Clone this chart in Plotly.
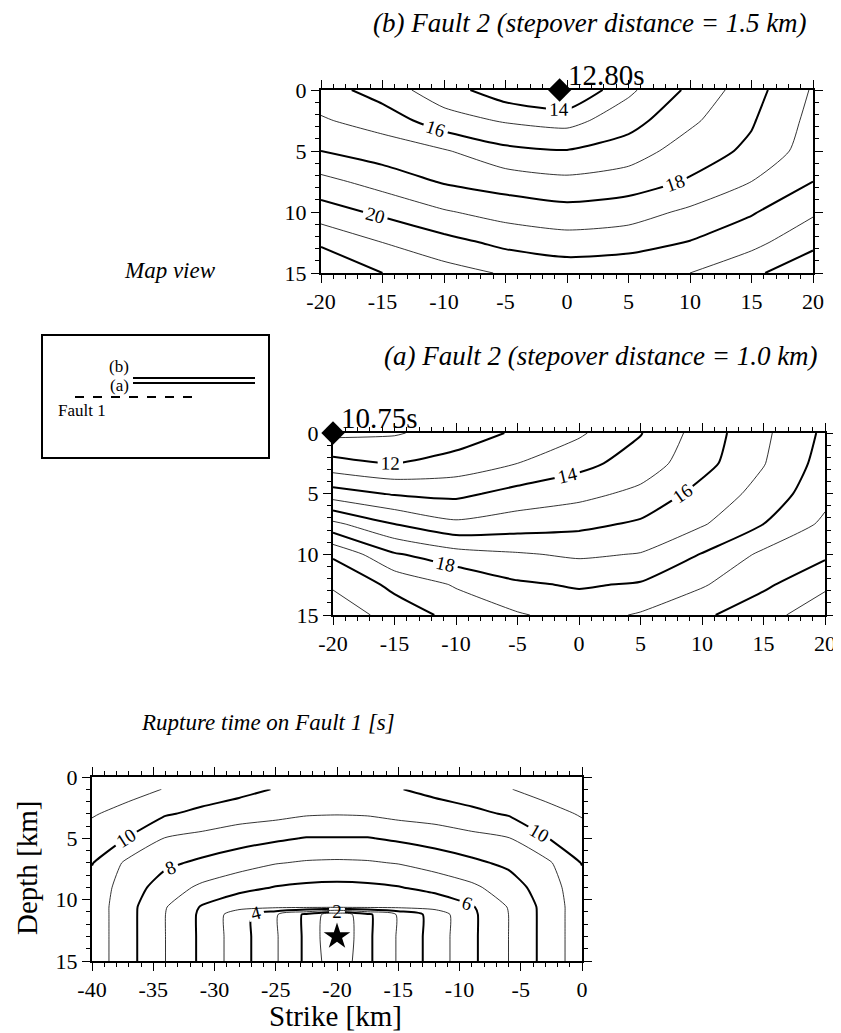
import plotly.graph_objects as go

FONT = "Liberation Serif"

# grid nodes of the two Fault 2 panels: strike [km] and depth [km]
fault2_strike = [-20, -15, -10, -5, 0, 5, 10, 15, 20]
fault2_depth = [0, 2.5, 5, 7.5, 10, 12.5, 15]

# (b) stepover 1.5 km, rupture time [s], one row per depth
time_b = [
    [16.5, 15.5, 14.45, 13.4, 12.9, 14.8, 16.2, 17.6, 19.1],
    [17.1, 16.6, 15.4, 14.9, 14.65, 15.6, 16.8, 17.9, 19.3],
    [18.0, 17.5, 17.1, 16.25, 16.05, 16.5, 17.5, 18.2, 19.5],
    [19.3, 18.6, 17.9, 17.55, 17.25, 17.5, 18.1, 19.0, 20.0],
    [20.45, 19.8, 19.1, 18.6, 18.35, 18.55, 19.2, 19.9, 20.85],
    [21.85, 21.0, 20.35, 19.75, 19.45, 19.6, 20.05, 20.7, 21.75],
    [22.9, 22.0, 21.4, 20.9, 20.6, 20.7, 21.0, 21.8, 22.7],
]

# (a) stepover 1.0 km
time_a = [
    [10.75, 10.9, 11.45, 12.15, 12.85, 13.95, 15.45, 16.8, 18.2],
    [12.35, 12.0, 12.4, 13.0, 13.7, 14.45, 15.65, 16.95, 18.4],
    [14.45, 13.9, 13.75, 14.35, 14.7, 15.25, 16.35, 17.35, 18.7],
    [17.25, 16.0, 15.2, 15.5, 15.75, 16.15, 16.9, 18.0, 19.2],
    [19.85, 18.1, 17.4, 17.1, 16.85, 17.05, 18.05, 19.2, 19.8],
    [20.85, 19.75, 18.9, 18.15, 17.9, 18.1, 18.9, 19.8, 20.85],
    [21.7, 20.55, 19.7, 19.1, 18.6, 19.1, 19.8, 20.7, 21.5],
]

# Fault 1 grid
fault1_strike = [-40, -37, -34, -31, -28, -25, -22.5, -20, -17.5, -15, -12, -9, -6, -3, 0]
fault1_depth = [1, 3, 5, 7, 9, 10.6, 11.2, 13, 15]
time_f1 = [
    [11.8, 11.4, 10.95, 10.6, 10.3, 9.95, 9.7, 9.6, 9.7, 9.95, 10.3, 10.6, 10.95, 11.4, 11.8],
    [11.1, 10.6, 10.1, 9.75, 9.45, 9.3, 9.1, 9.05, 9.1, 9.3, 9.45, 9.75, 10.1, 10.6, 11.1],
    [10.5, 9.95, 8.95, 8.7, 8.4, 8.15, 7.95, 7.95, 7.95, 8.15, 8.4, 8.7, 8.95, 9.95, 10.5],
    [10.05, 8.75, 8.2, 7.8, 7.43, 7.05, 6.9, 6.85, 6.9, 7.05, 7.43, 7.8, 8.2, 8.75, 10.05],
    [9.6, 8.5, 7.5, 6.8, 6.3, 5.95, 5.8, 5.75, 5.8, 5.95, 6.3, 6.8, 7.5, 8.5, 9.6],
    [9.6, 8.3, 7.05, 5.9, 5.3, 5.2, 5.2, 5.2, 5.2, 5.2, 5.3, 5.9, 7.05, 8.3, 9.6],
    [9.6, 8.3, 7.0, 5.8, 4.45, 3.1, 1.8, 0.2, 1.8, 3.1, 4.45, 5.8, 7.0, 8.3, 9.6],
    [9.6, 8.3, 7.0, 5.8, 4.45, 3.1, 1.8, 0.0, 1.8, 3.1, 4.45, 5.8, 7.0, 8.3, 9.6],
    [9.6, 8.3, 7.0, 5.8, 4.45, 3.1, 1.8, 0.2, 1.8, 3.1, 4.45, 5.8, 7.0, 8.3, 9.6],
]

# rupture start points (strike, depth) and their times
start_b = [-0.6, 0.0]
start_b_label = "12.80s"
start_a = [-20.0, 0.0]
start_a_label = "10.75s"
hypocenter = [-20.0, 13.0]

fault2_xticks = [-20, -15, -10, -5, 0, 5, 10, 15, 20]
fault2_xlabels = ["-20", "-15", "-10", "-5", "0", "5", "10", "15", "20"]
fault1_xticks = [-40, -35, -30, -25, -20, -15, -10, -5, 0]
fault1_xlabels = ["-40", "-35", "-30", "-25", "-20", "-15", "-10", "-5", "0"]
depth_ticks = [0, 5, 10, 15]

# the page puts the figure 8px in from the top left corner
OFF = 8
W, H = 841 - OFF, 1033 - OFF


def px(x):
    return (x - OFF) / W


def py(y):
    return 1 - (y - OFF) / H


fig = go.Figure()


def add_field(x, y, z, xa, ya, lo, hi):
    # thin lines on odd seconds, thick labelled lines on even ones
    fig.add_trace(go.Contour(
        x=x, y=y, z=z, xaxis=xa, yaxis=ya, autocontour=False,
        contours=dict(start=lo + 1, end=hi, size=2, coloring='none'),
        line=dict(color='black', width=0.8, smoothing=0.6),
        showscale=False, hoverinfo='skip'))
    fig.add_trace(go.Contour(
        x=x, y=y, z=z, xaxis=xa, yaxis=ya, autocontour=False,
        contours=dict(start=lo, end=hi, size=2, coloring='none', showlabels=True,
                      labelfont=dict(family=FONT, size=19, color='black')),
        line=dict(color='black', width=2, smoothing=0.6),
        showscale=False, hoverinfo='skip'))


add_field(fault2_strike, fault2_depth, time_b, 'x', 'y', 12, 24)
add_field(fault2_strike, fault2_depth, time_a, 'x2', 'y2', 10, 22)
add_field(fault1_strike, fault1_depth, time_f1, 'x3', 'y3', 0, 12)

fig.add_trace(go.Scatter(x=[start_b[0]], y=[start_b[1]], xaxis='x', yaxis='y', mode='markers',
                         marker=dict(symbol='diamond', size=18, color='black'), cliponaxis=False))
fig.add_trace(go.Scatter(x=[start_a[0]], y=[start_a[1]], xaxis='x2', yaxis='y2', mode='markers',
                         marker=dict(symbol='diamond', size=18, color='black'), cliponaxis=False))
fig.add_trace(go.Scatter(x=[hypocenter[0]], y=[hypocenter[1]], xaxis='x3', yaxis='y3', mode='markers',
                         marker=dict(symbol='star', size=20, color='black'), cliponaxis=False))

axis_style = dict(
    showline=True, linewidth=2, linecolor='black', mirror='allticks', automargin=False,
    ticks='outside', ticklen=8, tickwidth=1.3, tickcolor='black',
    minor=dict(ticks='outside', dtick=1, ticklen=4, tickwidth=1, tickcolor='black'),
    showgrid=False, zeroline=False, ticklabeloverflow='allow',
    tickfont=dict(family=FONT, size=22, color='black'),
)

fig.update_layout(
    width=W, height=H, margin=dict(l=0, r=0, t=0, b=0, autoexpand=False),
    paper_bgcolor='white', plot_bgcolor='white', showlegend=False,
    xaxis=dict(axis_style, domain=[px(321), px(813)], range=[-20, 20], anchor='y',
               tickvals=fault2_xticks, ticktext=fault2_xlabels),
    yaxis=dict(axis_style, domain=[py(273), py(90)], range=[15, 0], anchor='x',
               tickvals=depth_ticks),
    xaxis2=dict(axis_style, domain=[px(333), px(825)], range=[-20, 20], anchor='y2',
                tickvals=fault2_xticks, ticktext=fault2_xlabels),
    yaxis2=dict(axis_style, domain=[py(615), py(433)], range=[15, 0], anchor='x2',
                tickvals=depth_ticks),
    xaxis3=dict(axis_style, domain=[px(92), px(582)], range=[-40, 0], anchor='y3',
                tickvals=fault1_xticks, ticktext=fault1_xlabels),
    yaxis3=dict(axis_style, domain=[py(961), py(777)], range=[15, 0], anchor='x3',
                tickvals=depth_ticks),
)

title_font = dict(family=FONT, size=27, color='black')
axis_font = dict(family=FONT, size=29, color='black')
small_font = dict(family=FONT, size=17, color='black')
annotations = [
    dict(x=px(590), y=py(23), text='<i>(b) Fault 2 (stepover distance = 1.5 km)</i>', font=title_font),
    dict(x=px(601), y=py(356), text='<i>(a) Fault 2 (stepover distance = 1.0 km)</i>', font=title_font),
    dict(x=px(268), y=py(722), text='<i>Rupture time on Fault 1 [s]</i>', font=dict(family=FONT, size=23, color='black')),
    dict(x=px(170), y=py(270), text='<i>Map view</i>', font=dict(family=FONT, size=23, color='black')),
    dict(x=px(335), y=py(1016), text='Strike [km]', font=axis_font),
    dict(x=px(27), y=py(868), text='Depth [km]', textangle=-90, font=axis_font),
    dict(x=px(119), y=py(366), text='(b)', font=small_font),
    dict(x=px(119), y=py(385), text='(a)', font=small_font),
    dict(x=px(57), y=py(410), text='Fault 1', xanchor='left', font=small_font),
]
for a in annotations:
    a.setdefault('xanchor', 'center')
    fig.add_annotation(xref='paper', yref='paper', showarrow=False, yanchor='middle', borderpad=0, **a)

fig.add_annotation(x=start_b[0], y=start_b[1], xref='x', yref='y', text=start_b_label, showarrow=False,
                   xanchor='left', yanchor='bottom', xshift=6, yshift=-3,
                   font=dict(family=FONT, size=29, color='black'))
fig.add_annotation(x=start_a[0], y=start_a[1], xref='x2', yref='y2', text=start_a_label, showarrow=False,
                   xanchor='left', yanchor='bottom', xshift=6, yshift=-3,
                   font=dict(family=FONT, size=29, color='black'))

# map view sketch
fig.add_shape(type='rect', xref='paper', yref='paper', x0=px(42), x1=px(269), y0=py(458), y1=py(335),
              line=dict(color='black', width=2))
fig.add_shape(type='line', xref='paper', yref='paper', x0=px(133), x1=px(255), y0=py(378), y1=py(378),
              line=dict(color='black', width=2))
fig.add_shape(type='line', xref='paper', yref='paper', x0=px(133), x1=px(255), y0=py(383), y1=py(383),
              line=dict(color='black', width=2))
fig.add_shape(type='line', xref='paper', yref='paper', x0=px(75), x1=px(193), y0=py(397), y1=py(397),
              line=dict(color='black', width=2, dash='dash'))

fig.write_html("out.html")
